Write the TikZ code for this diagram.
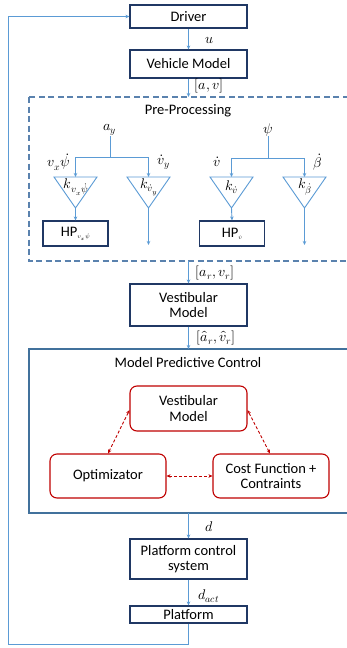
\documentclass[tikz,border=0pt]{standalone}
\usepackage{fontspec}
\usepackage{unicode-math}
\setmainfont{Carlito}
\setmathfont{Latin Modern Math}
\usetikzlibrary{arrows.meta}
\definecolor{arrowblue}{HTML}{5B9BD5}
\definecolor{navy}{HTML}{203864}
\definecolor{dashblue}{HTML}{5A82AE}
\definecolor{mpcblue}{HTML}{41719C}
\definecolor{redbox}{HTML}{C00000}
\tikzset{
  blockbox/.style={draw=navy, line width=1.1pt, fill=white, minimum width=117pt, align=center, inner sep=1pt, font=\fontsize{14.5}{15.5}\selectfont},
  redblock/.style={draw=redbox, line width=1.1pt, fill=white, rounded corners=7pt, minimum width=116pt, align=center, inner sep=1pt, font=\fontsize{14.5}{15.5}\selectfont},
  flow/.style={draw=arrowblue, line width=0.9pt, -{Stealth[length=4pt,width=3.5pt]}},
  flowline/.style={draw=arrowblue, line width=0.9pt},
  tri/.style={draw=arrowblue, line width=0.9pt, line join=miter},
  mlabel/.style={inner sep=0pt, font=\fontsize{14}{15}\selectfont},
  titletext/.style={inner sep=0pt, font=\fontsize{14.5}{15.5}\selectfont},
  hpbox/.style={draw=navy, line width=1.1pt, fill=white, minimum width=65pt, minimum height=25pt, inner sep=1pt, font=\fontsize{14.5}{15.5}\selectfont},
  reddash/.style={draw=redbox, line width=0.9pt, dash pattern=on 3pt off 2pt, {Stealth[length=4pt,width=3.5pt]}-{Stealth[length=4pt,width=3.5pt]}},
}
\begin{document}
\begin{tikzpicture}[x=1pt,y=-1pt]
\useasboundingbox (0,0) rectangle (347,648);
\clip (0,0) rectangle (347,648);
\fill[white] (0,0) rectangle (347,648);

% frames
\draw[dashblue, line width=1.1pt, dash pattern=on 6pt off 3.5pt] (29,97) rectangle (362,261);
\node[titletext] (pptitle) at (188,111) {Pre-Processing};
\draw[mpcblue, line width=1.1pt] (29,349) rectangle (362,513);
\node[titletext] (mpctitle) at (188,363) {Model Predictive Control};

% main blocks
\node[blockbox, minimum height=23pt] (driver) at (188.5,16.5) {Driver};
\node[blockbox, minimum height=28pt] (vehicle) at (188.5,64) {Vehicle Model};
\node[blockbox, minimum height=42pt] (vest) at (188.5,305) {Vestibular\\Model};
\node[blockbox, minimum height=40pt] (pcs) at (188.5,559) {Platform control\\system};
\node[blockbox, minimum height=17pt] (platform) at (188.5,614.5) {Platform};

% MPC inner blocks
\node[redblock, minimum width=117pt, minimum height=45pt] (vm2) at (188.5,408.5) {Vestibular\\Model};
\node[redblock, minimum height=44pt] (opt) at (108,476) {Optimizator};
\node[redblock, minimum height=44pt] (cost) at (271,476) {Cost Function +\\Contraints};

% frame coordinates
\coordinate (ppin) at (188.5,97);
\coordinate (ppout) at (188.5,261);
\coordinate (mpcin) at (188.5,349);
\coordinate (mpcout) at (188.5,513);

% main flow
\draw[flow] (driver) -- (vehicle);
\node[mlabel] (lu) at (210,40) {$u$};
\draw[flow] (vehicle) -- (ppin);
\node[mlabel] (lav) at (209,86) {$[a,v]$};
\draw[flow] (ppout) -- (vest);
\node[mlabel] (lar) at (215,273) {$[a_r,v_r]$};
\draw[flow] (vest) -- (mpcin);
\node[mlabel] (lhat) at (216,338) {$[\hat a_r,\hat v_r]$};
\draw[flow] (mpcout) -- (pcs);
\node[mlabel] (ld) at (209,527) {$d$};
\draw[flow] (pcs) -- (platform);
\node[mlabel] (ldact) at (209,596) {$d_{act}$};

% feedback
\coordinate (fb1) at (188.5,644);
\coordinate (fb2) at (8,644);
\coordinate (fb3) at (8,16.5);
\draw[flow] (platform.south) -- (fb1) -- (fb2) -- (fb3) -- (driver.west);

% MPC dashed arrows
\coordinate (vmL) at (129.5,410);
\coordinate (vmR) at (247.5,410);
\coordinate (optT) at (108,453.5);
\coordinate (costT) at (270,453.5);
\draw[reddash] (optT) -- (vmL);
\draw[reddash] (costT) -- (vmR);
\draw[reddash] (opt.east) -- (cost.west);

% Pre-processing tree 1
\node[mlabel] (ay) at (110,130) {$a_y$};
\coordinate (s1) at (110,157);
\coordinate (b1L) at (75.5,157);
\coordinate (b1R) at (148.5,157);
\coordinate (t1) at (75.5,177);
\coordinate (t2) at (148.5,177);
\draw[flowline] (ay.south) -- (s1);
\draw[flowline] (b1L) -- (b1R);
\draw[flow] (b1L) -- (t1);
\draw[flow] (b1R) -- (t2);
\node[mlabel] (lvxpsi) at (59,162) {$v_x\dot\psi$};
\node[mlabel] (lvy) at (164,162) {$\dot v_y$};

% tree 2
\node[mlabel] (psi) at (268,130) {$\psi$};
\coordinate (s2) at (268,158);
\coordinate (b2L) at (231.5,158);
\coordinate (b2R) at (304.5,158);
\coordinate (t3) at (231.5,177);
\coordinate (t4) at (304.5,177);
\draw[flowline] (psi.south) -- (s2);
\draw[flowline] (b2L) -- (b2R);
\draw[flow] (b2L) -- (t3);
\draw[flow] (b2R) -- (t4);
\node[mlabel] (lv) at (217,162) {$\dot v$};
\node[mlabel] (lbeta) at (318,162) {$\dot\beta$};

% triangles
\draw[tri] (54,177) -- (97,177) -- (75.5,208) -- cycle;
\draw[tri] (127,177) -- (170,177) -- (148.5,208) -- cycle;
\draw[tri] (210,177) -- (253,177) -- (231.5,208) -- cycle;
\draw[tri] (283,177) -- (326,177) -- (304.5,208) -- cycle;
\coordinate (a1) at (75.5,208);
\coordinate (a2) at (148.5,208);
\coordinate (a3) at (231.5,208);
\coordinate (a4) at (304.5,208);
\node[mlabel] (k1) at (76,187) {$k_{v_x\dot\psi}$};
\node[mlabel] (k2) at (149,187) {$k_{\dot v_y}$};
\node[mlabel] (k3) at (232,187) {$k_{\dot v}$};
\node[mlabel] (k4) at (305,187) {$k_{\dot\beta}$};

% HP boxes
\node[hpbox] (hp1) at (75.5,233.5) {HP\fontsize{9}{10}\selectfont$_{v_x\dot\psi}$};
\node[hpbox] (hp2) at (232,233.5) {HP\fontsize{9}{10}\selectfont$_{\dot v}$};
\coordinate (e2) at (148.5,245);
\coordinate (e4) at (304.5,245);
\draw[flow] (a1) -- (hp1.north);
\draw[flow] (a3) -- (hp2.north);
\draw[flow] (a2) -- (e2);
\draw[flow] (a4) -- (e4);
\end{tikzpicture}
\end{document}
